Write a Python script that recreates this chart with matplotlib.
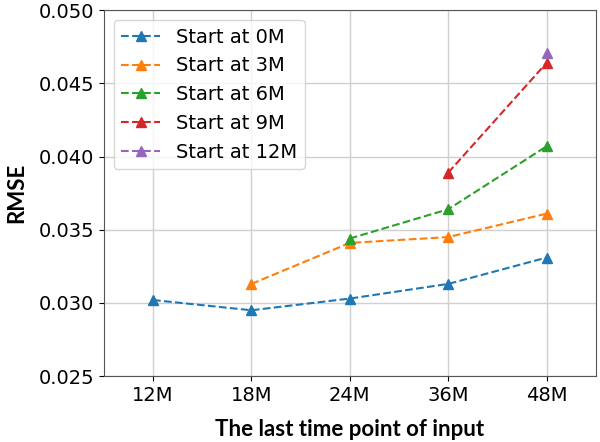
import numpy as np
import matplotlib.pyplot as plt

plt.rcParams['font.family'] = ['DejaVu Sans']

# data ------------------------------------------------------
x_labels = ['12M', '18M', '24M', '36M', '48M']

start_0m = [0.0302, 0.0295, 0.0303, 0.0313, 0.0331]
start_3m = [np.nan, 0.0313, 0.0341, 0.0345, 0.0361]
start_6m = [np.nan, np.nan, 0.0344, 0.0364, 0.0407]
start_9m = [np.nan, np.nan, np.nan, 0.0389, 0.0464]
start_12m = [np.nan, np.nan, np.nan, np.nan, 0.0471]

series = [
    ('Start at 0M', start_0m),
    ('Start at 3M', start_3m),
    ('Start at 6M', start_6m),
    ('Start at 9M', start_9m),
    ('Start at 12M', start_12m),
]

# plotting --------------------------------------------------
fig = plt.figure(figsize=(6, 4.42), dpi=100)
ax = fig.add_axes([0.173, 0.149, 0.82, 0.828])

xs = np.arange(len(x_labels))
for name, vals in series:
    ax.plot(xs, vals, '--^', label=name, markersize=7, linewidth=1.5)

ax.set_xticks(xs)
ax.set_xticklabels(x_labels)
ax.set_xlim(-0.5, len(x_labels) - 0.5)
ax.set_ylim(0.025, 0.050)
ax.set_yticks([0.025, 0.030, 0.035, 0.040, 0.045, 0.050])
ax.yaxis.set_major_formatter(plt.FormatStrFormatter('%.3f'))
ax.tick_params(labelsize=14)
ax.grid(True, color='#d0d0d0', linewidth=1)
ax.set_axisbelow(True)
for s in ax.spines.values():
    s.set_color('#555555')

ax.set_xlabel('The last time point of input', fontsize=16, fontweight='bold',
              family='Lato', labelpad=10)
ax.set_ylabel('RMSE', fontsize=16, fontweight='bold', family='Lato', labelpad=8)

ax.legend(loc='upper left', fontsize=14, handlelength=2.0, borderpad=0.4,
          labelspacing=0.5)

fig.savefig('out.png', dpi=100)
